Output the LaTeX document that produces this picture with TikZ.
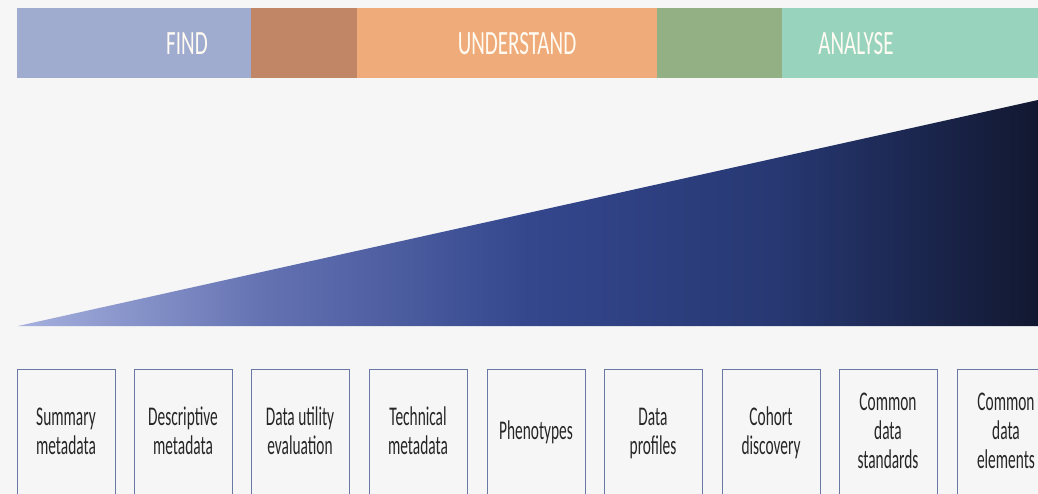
\documentclass[tikz,border=0pt]{standalone}
\usepackage{fontspec}
\setmainfont{Carlito}
\newfontfamily\condfont[FakeStretch=0.62]{Carlito}
\newfontfamily\itemfont[FakeStretch=0.57]{Carlito}
\definecolor{bg}{HTML}{F6F6F6}
\definecolor{cfind}{HTML}{9FABCF}
\definecolor{cbrown}{HTML}{C18665}
\definecolor{corange}{HTML}{EFAC7A}
\definecolor{cgreen}{HTML}{93AF84}
\definecolor{cteal}{HTML}{98D3BE}
\definecolor{htext}{HTML}{FFFBF2}
\definecolor{boxline}{HTML}{6A78A6}
\definecolor{g0}{HTML}{A6B1DE}
\definecolor{g1}{HTML}{6472B2}
\definecolor{g2}{HTML}{34478D}
\definecolor{g3}{HTML}{273873}
\definecolor{g4}{HTML}{121831}
\pgfdeclarehorizontalshading{tri}{100bp}{color(0bp)=(g0); color(25bp)=(g0); color(37bp)=(g1); color(50bp)=(g2); color(62bp)=(g3); color(75bp)=(g4); color(100bp)=(g4)}
\newcommand\tp{\vphantom{Ây}}
\tikzset{
  band/.style={draw=none, minimum height=70pt, inner sep=0pt, anchor=north west},
  htitle/.style={text=htext, font=\condfont\fontsize{34}{36}\selectfont, inner sep=0pt},
  itembox/.style={draw=boxline, line width=0.8pt, fill=none, minimum width=98pt, minimum height=160pt, anchor=north west, inner sep=0pt},
  itemtext/.style={text=black!85, font=\itemfont\fontsize{27}{29}\selectfont, align=center, inner sep=0pt}
}
\begin{document}
\begin{tikzpicture}[x=1pt,y=-1pt]
\useasboundingbox (0,0) rectangle (1038,494);
\fill[bg] (0,0) rectangle (1038,494);
\clip (0,0) rectangle (1038,494);
% top band
\node[band, fill=cfind, minimum width=234pt] (bfind) at (17,8) {};
\node[band, fill=cbrown, minimum width=106pt] (bbrown) at (251,8) {};
\node[band, fill=corange, minimum width=300pt] (bund) at (357,8) {};
\node[band, fill=cgreen, minimum width=125pt] (bgreen) at (657,8) {};
\node[band, fill=cteal, minimum width=260pt] (bana) at (782,8) {};
\node[htitle] (tfind) at (187,44) {FIND};
\node[htitle] (tund) at (517,44) {UNDERSTAND};
\node[htitle] (tana) at (856,44) {ANALYSE};
% wedge
\shade[shading=tri] (18,326) -- (1038,100) -- (1038,326) -- cycle;
% boxes
\foreach \x/\n/\t in {17/b1/{\tp Summary\\metadata\tp}, 134/b2/{\tp Descriptive\\metadata\tp}, 251/b3/{\tp Data utility\\evaluation\tp}, 369/b4/{\tp Technical\\metadata\tp}, 487/b5/{\tp Phenotypes\tp}, 604/b6/{\tp Data\\profiles\tp}, 722/b7/{\tp Cohort\\discovery\tp}, 839/b8/{\tp Common\\data\\standards\tp}, 957/b9/{\tp Common\\data\\elements\tp}}{
  \node[itembox] (\n) at (\x,369) {};
  \node[itemtext] (\n t) at (\x+49,431) {\t};
}
\end{tikzpicture}
\end{document}
